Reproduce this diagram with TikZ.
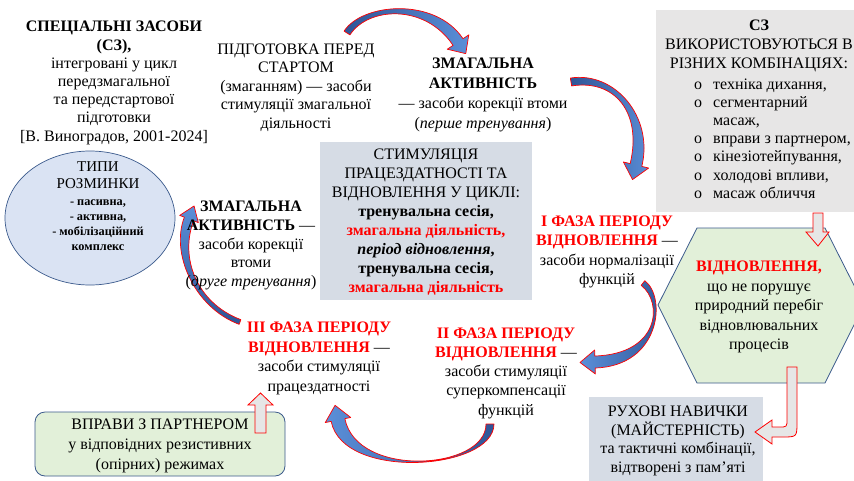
\documentclass[tikz,border=0pt]{standalone}
\usepackage{fontspec}
\setmainfont{Liberation Serif}
\usetikzlibrary{calc,shapes.geometric}
\definecolor{redc}{HTML}{FF0000}
\definecolor{grayfill}{HTML}{E7E6E6}
\definecolor{bluegray}{HTML}{D6DCE5}
\definecolor{lightblue}{HTML}{DAE3F3}
\definecolor{lightgreen}{HTML}{E2F0D9}
\definecolor{edgeblue}{HTML}{3B5A8C}
\definecolor{arrdark}{HTML}{2F5597}
\definecolor{arrlight}{HTML}{5B8FD8}
\definecolor{blockfill}{HTML}{E6E6E6}

\newcommand\cvarrow[9]{%
 \coordinate (q0) at #1; \coordinate (q1) at #2; \coordinate (q2) at #3; \coordinate (q3) at #4;
 \coordinate (a0) at ($(q0)!#5!90:(q1)$);
 \coordinate (b0) at ($(q0)!#5!-90:(q1)$);
 \coordinate (a3) at ($(q3)!#6!-90:(q2)$);
 \coordinate (b3) at ($(q3)!#6!90:(q2)$);
 \coordinate (ha) at ($(q3)!#7!-90:(q2)$);
 \coordinate (hb) at ($(q3)!#7!90:(q2)$);
 \coordinate (tp) at ($(q3)!-#8!(q2)$);
 \shadedraw[curvearrow,#9] (a0) .. controls ($(q1)+(a0)-(q0)$) and ($(q2)+(a3)-(q3)$) .. (a3) -- (ha) -- (tp) -- (hb) -- (b3) .. controls ($(q2)+(b3)-(q3)$) and ($(q1)+(b0)-(q0)$) .. (b0) -- cycle;
}

\tikzset{
 txt/.style={align=center, inner sep=0pt, text=black},
 curvearrow/.style={draw=redc, line width=0.7pt, line join=round},
 blockarrow/.style={draw=redc, fill=blockfill, line width=0.8pt, line join=miter},
 boxstyle/.style={draw=none, inner sep=0pt},
}

\begin{document}
\begin{tikzpicture}[x=1pt,y=-1pt]
\useasboundingbox (0,0) rectangle (854,480);
\fill[white] (0,0) rectangle (854,480);

% boxes
\node[boxstyle, fill=grayfill, minimum width=206pt, minimum height=202pt] (czbox) at (759,111) {};
\node[boxstyle, fill=bluegray, minimum width=212pt, minimum height=158pt] (cycbox) at (426,221) {};
\node[ellipse, draw=edgeblue, line width=0.7pt, fill=lightblue, minimum width=170pt, minimum height=134pt, inner sep=0pt] (warm) at (90,218) {};
\coordinate (hx1) at (658,305); \coordinate (hx2) at (697,228); \coordinate (hx3) at (825,228);
\coordinate (hx4) at (864,305); \coordinate (hx5) at (825,383); \coordinate (hx6) at (697,383);
\draw[edgeblue, line width=0.8pt, fill=lightgreen] (hx1) -- (hx2) -- (hx3) -- (hx4) -- (hx5) -- (hx6) -- cycle;
\node[draw=edgeblue, line width=0.8pt, fill=lightgreen, rounded corners=10pt, minimum width=250pt, minimum height=64pt, inner sep=0pt] (partnerbox) at (160,444) {};
\node[boxstyle, fill=bluegray, minimum width=174pt, minimum height=86pt] (skillbox) at (676,440) {};

% curved arrows
\cvarrow{(347,33)}{(365,5)}{(430,0)}{(458,42)}{3.5pt}{6pt}{13pt}{14pt}{left color=arrdark,right color=arrlight}
\cvarrow{(571,82)}{(615,75)}{(648,115)}{(636,165)}{4pt}{6pt}{13pt}{15pt}{left color=arrdark,right color=arrlight}
\cvarrow{(643,283)}{(665,300)}{(660,360)}{(595,362)}{3pt}{6pt}{12pt}{15pt}{left color=arrlight,right color=arrdark}
\cvarrow{(490,424)}{(490,470)}{(350,480)}{(338,420)}{4pt}{7pt}{13pt}{15pt}{left color=arrlight,right color=arrdark}
\cvarrow{(240,322)}{(195,305)}{(175,255)}{(189,219)}{2.5pt}{5pt}{10pt}{14pt}{top color=arrlight,bottom color=arrdark}

% block arrows
\draw[blockarrow] (813,213) -- (823,213) -- (823,232) -- (829,232) -- (818,246) -- (806,232) -- (813,232) -- cycle;
\draw[blockarrow] (255,433) -- (255,405) -- (248,405) -- (260.5,393) -- (273,405) -- (266,405) -- (266,433) -- cycle;
\draw[blockarrow] (787,367) -- (797,367) -- (797,422) .. controls (797,437) .. (782,437) -- (772,437) -- (772,444) -- (755,432) -- (772,420) -- (772,427) -- (779,427) .. controls (787,427) .. (787,419) -- cycle;

% texts
\node[txt, font=\fontsize{16}{18.2}\selectfont] (intro) at (114,83)
 {\textbf{СПЕЦІАЛЬНІ ЗАСОБИ}\\\textbf{(СЗ),}\\інтегровані у цикл\\передзмагальної\\та передстартової\\підготовки\\{[}В. Виноградов, 2001-2024]};
\node[txt, font=\fontsize{16}{18.5}\selectfont] (prep) at (296,87.5)
 {ПІДГОТОВКА ПЕРЕД\\СТАРТОМ\\(змаганням) — засоби\\стимуляції змагальної\\діяльності};
\node[txt, font=\fontsize{16}{20}\selectfont] (act1) at (483,94.5)
 {\textbf{ЗМАГАЛЬНА}\\\textbf{АКТИВНІСТЬ}\\— засоби корекції втоми\\(\textit{перше тренування})};
\node[txt, font=\fontsize{16}{19}\selectfont] (czhead) at (759,46)
 {\textbf{СЗ}\\ВИКОРИСТОВУЮТЬСЯ В\\РІЗНИХ КОМБІНАЦІЯХ:};
\node[txt, align=left, anchor=west, font=\fontsize{16}{18.2}\selectfont] (czlist) at (694,138.5)
 {\makebox[19pt][l]{o}техніка дихання,\\\makebox[19pt][l]{o}сегментарний\\\hspace*{19pt}масаж,\\\makebox[19pt][l]{o}вправи з партнером,\\\makebox[19pt][l]{o}кінезіотейпування,\\\makebox[19pt][l]{o}холодові впливи,\\\makebox[19pt][l]{o}масаж обличчя};
\node[txt, font=\fontsize{15}{16.5}\selectfont] (warmhead) at (98,175) {ТИПИ\\РОЗМИНКИ};
\node[txt, font=\fontsize{12.3}{15}\selectfont\bfseries] (warmlist) at (98,225)
 {- пасивна,\\- активна,\\- мобілізаційний\\комплекс};
\node[txt, font=\fontsize{16}{18.75}\selectfont] (act2) at (251,245.5)
 {\textbf{ЗМАГАЛЬНА}\\\textbf{АКТИВНІСТЬ} —\\засоби корекції\\втоми\\(\textit{друге тренування})};
\node[txt, font=\fontsize{16}{19}\selectfont] (cyc) at (426,222.5)
 {СТИМУЛЯЦІЯ\\ПРАЦЕЗДАТНОСТІ ТА\\ВІДНОВЛЕННЯ У ЦИКЛІ:\\\textbf{тренувальна сесія,}\\\textcolor{redc}{\textbf{змагальна діяльність,}}\\\textbf{\textit{період відновлення},}\\\textbf{тренувальна сесія,}\\\textcolor{redc}{\textbf{змагальна діяльність}}};
\node[txt, font=\fontsize{16}{19.3}\selectfont] (ph1) at (607,252)
 {\textcolor{redc}{\textbf{І ФАЗА ПЕРІОДУ}}\\\textcolor{redc}{\textbf{ВІДНОВЛЕННЯ}} —\\засоби нормалізації\\функцій};
\node[txt, font=\fontsize{16}{19.5}\selectfont] (rec) at (759,307)
 {\textcolor{redc}{\textbf{ВІДНОВЛЕННЯ,}}\\що не порушує\\природний перебіг\\відновлювальних\\процесів};
\node[txt, font=\fontsize{16}{19.25}\selectfont] (ph2) at (506,373)
 {\textcolor{redc}{\textbf{ІІ ФАЗА ПЕРІОДУ}}\\\textcolor{redc}{\textbf{ВІДНОВЛЕННЯ}} —\\засоби стимуляції\\суперкомпенсації\\функцій};
\node[txt, font=\fontsize{16}{19.5}\selectfont] (ph3) at (319,358.5)
 {\textcolor{redc}{\textbf{ІІІ ФАЗА ПЕРІОДУ}}\\\textcolor{redc}{\textbf{ВІДНОВЛЕННЯ}} —\\засоби стимуляції\\працездатності};
\node[txt, font=\fontsize{16}{20}\selectfont] (partner) at (160,446)
 {ВПРАВИ З ПАРТНЕРОМ\\у відповідних резистивних\\(опірних) режимах};
\node[txt, font=\fontsize{16}{18.7}\selectfont] (skills) at (678,441)
 {РУХОВІ НАВИЧКИ\\(МАЙСТЕРНІСТЬ)\\та тактичні комбінації,\\відтворені з пам’яті};
\end{tikzpicture}
\end{document}
